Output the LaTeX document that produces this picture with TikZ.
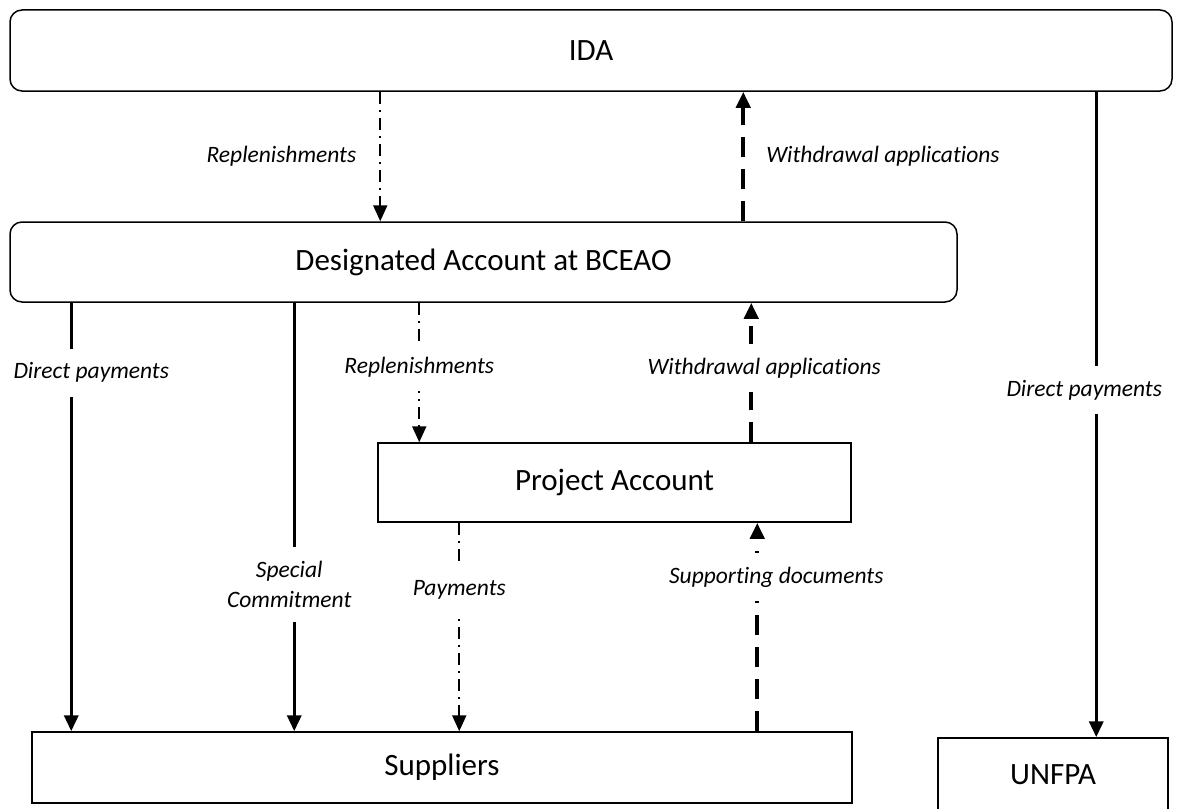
\documentclass[tikz,border=0pt]{standalone}
\usepackage{fontspec}
\setmainfont[Ligatures=NoCommon]{Carlito}
\usetikzlibrary{arrows.meta}

\begin{document}
\begin{tikzpicture}[x=1pt,y=-1pt,]
	\useasboundingbox (0,0) rectangle (1177,808);
	\tikzstyle{Acct}=[draw,line width=1.5pt,inner sep=0pt,font=\fontsize{31}{36}\selectfont]
	\tikzstyle{RoundAcct}=[Acct,rounded corners=12pt]
	\tikzstyle{Lbl}=[fill=white,inner xsep=3pt,inner ysep=14pt,align=center,font=\fontsize{23.5}{30}\selectfont\itshape]
	\tikzstyle{SolidFlow}=[line width=3.5pt,-{Triangle[width=14pt,length=16pt]}]
	\tikzstyle{DashFlow}=[line width=4pt,dash pattern=on 20pt off 12pt,-{Triangle[width=14pt,length=16pt]}]
	\tikzstyle{DotFlow}=[line width=2pt,dash pattern=on 12pt off 6pt on 2pt off 6pt,-{Triangle[width=14pt,length=16pt]}]
	\node[RoundAcct,minimum width=1162pt,minimum height=81pt] (ida) at (591,50.5) {IDA};
	\node[RoundAcct,minimum width=947pt,minimum height=80pt] (da) at (483.5,262) {Designated Account at BCEAO};
	\node[Acct,minimum width=473pt,minimum height=79pt] (proj) at (614.5,482.5) {Project Account};
	\node[Acct,minimum width=820pt,minimum height=71pt] (sup) at (442,767.5) {Suppliers};
	\node[Acct,minimum width=230pt,minimum height=74pt] (unfpa) at (1053,775) {UNFPA};
	% IDA and designated account
	\draw[DotFlow] ([xshift=371pt]ida.south west) -- node[Lbl,left=20pt]{Replenishments} ([xshift=371pt]da.north west);
	\draw[DashFlow] ([xshift=734pt]da.north west) -- node[Lbl,right=18pt]{Withdrawal applications} ([xshift=734pt]ida.south west);
	\draw[SolidFlow] ([xshift=1087pt]ida.south west) -- node[Lbl,pos=0.462,xshift=-12pt]{Direct payments} ([xshift=159pt]unfpa.north west);
	% designated account to suppliers and project
	\draw[SolidFlow] ([xshift=62pt]da.south west) -- node[Lbl,pos=0.163,xshift=20pt]{Direct payments} ([xshift=40pt]sup.north west);
	\draw[SolidFlow] ([xshift=285pt]da.south west) -- node[Lbl,pos=0.658,xshift=-5pt]{Special\\Commitment} ([xshift=263pt]sup.north west);
	\draw[DotFlow] ([xshift=410pt]da.south west) -- node[Lbl,pos=0.46]{Replenishments} ([xshift=42pt]proj.north west);
	\draw[DashFlow] ([xshift=374pt]proj.north west) -- node[Lbl,pos=0.53,xshift=13pt]{Withdrawal applications} ([xshift=742pt]da.south west);
	% project account and suppliers
	\draw[DotFlow] ([xshift=82pt]proj.south west) -- node[Lbl,pos=0.32]{Payments} ([xshift=428pt]sup.north west);
	\draw[DashFlow] ([xshift=726pt]sup.north west) -- node[Lbl,pos=0.74,xshift=19pt]{Supporting documents} ([xshift=380pt]proj.south west);
\end{tikzpicture}
\end{document}
